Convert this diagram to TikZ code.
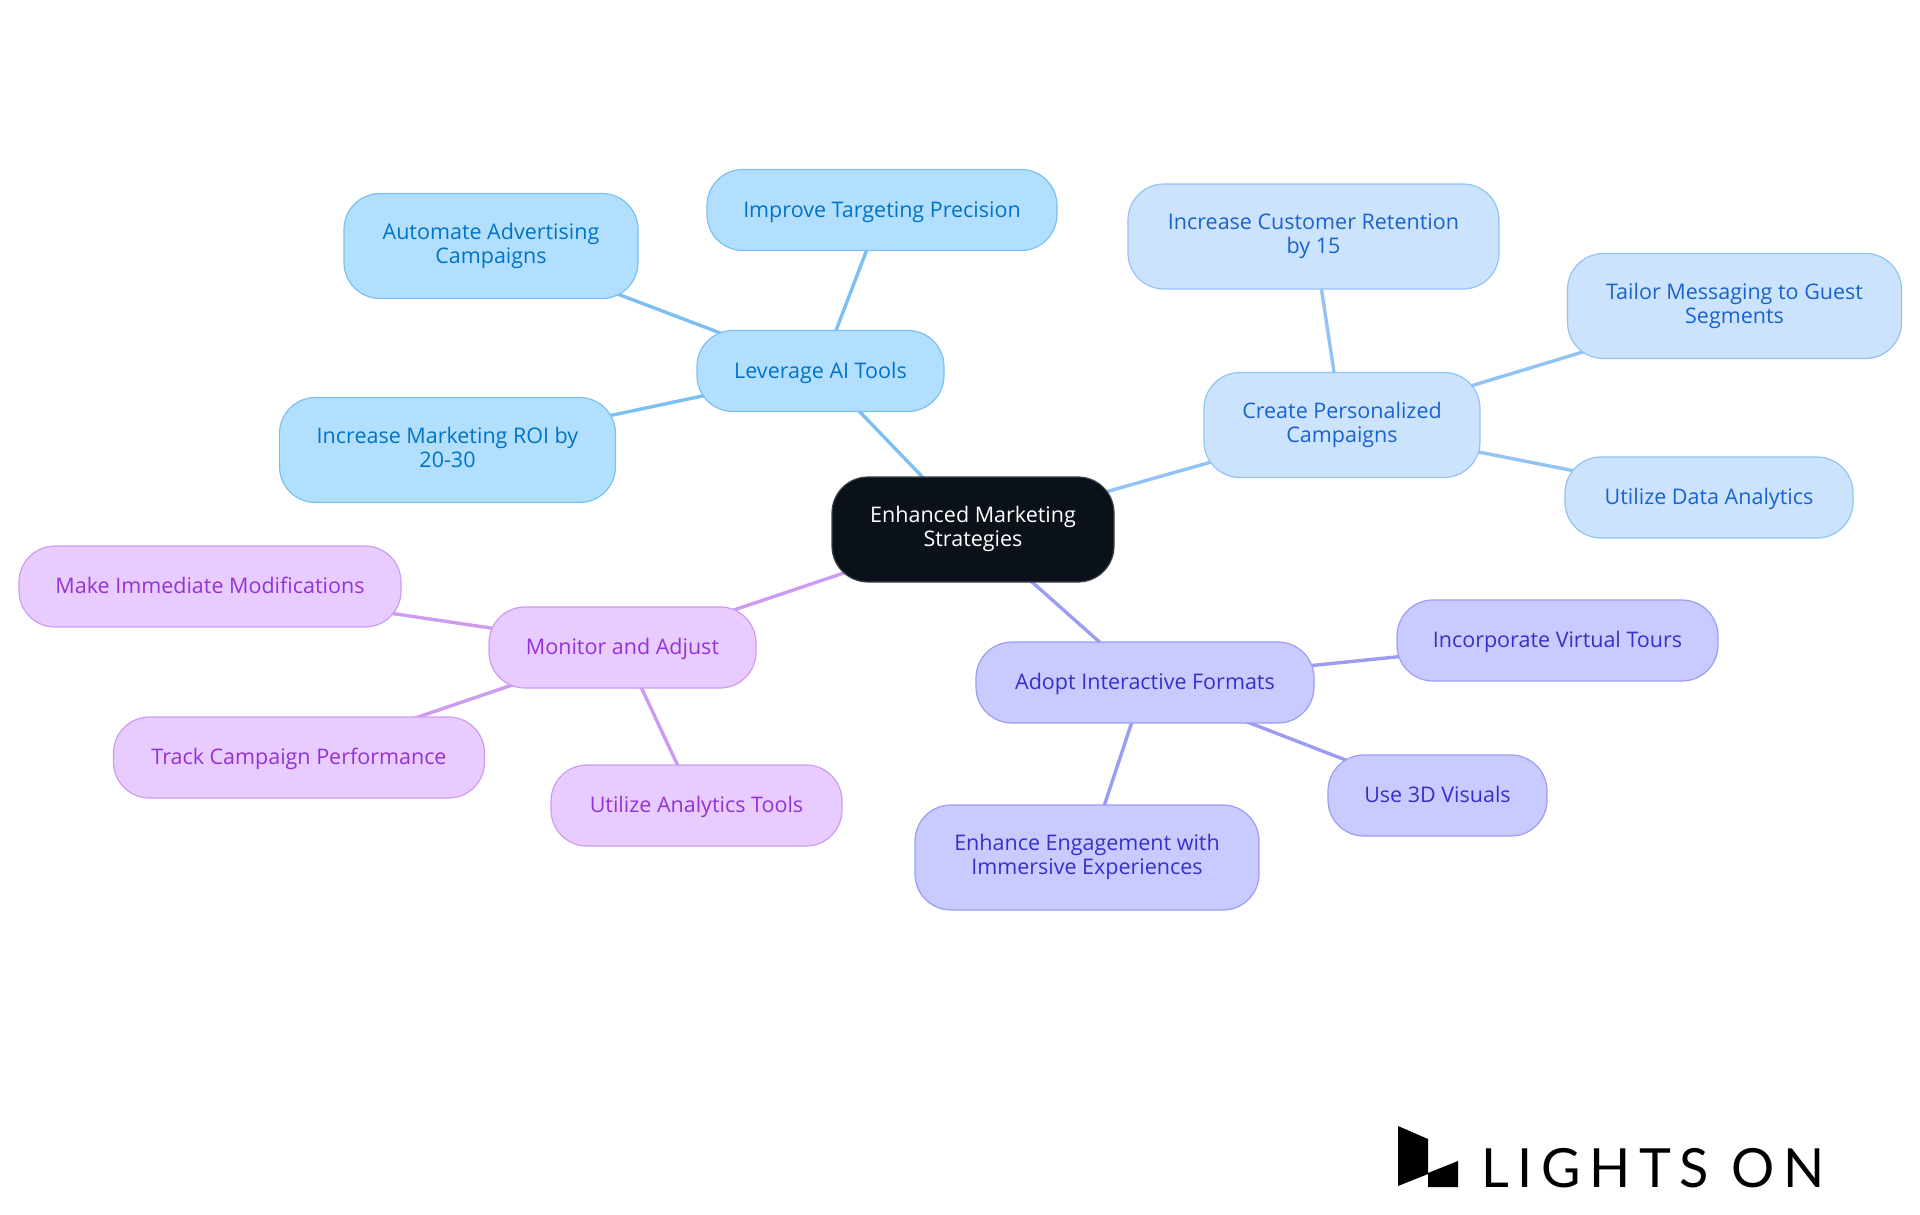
\documentclass[tikz,border=0pt]{standalone}
\usepackage{fontspec}
\setmainfont{Open Sans}
\newfontfamily\logofont[LetterSpace=16]{Lato}
\usetikzlibrary{backgrounds}
\definecolor{bluefill}{HTML}{B3DFFF}\definecolor{bluedraw}{HTML}{7CC0F2}\definecolor{bluetext}{HTML}{0073C6}
\definecolor{skyfill}{HTML}{CCE3FD}\definecolor{skydraw}{HTML}{93C2F5}\definecolor{skytext}{HTML}{1A62CC}
\definecolor{indfill}{HTML}{C9CAFF}\definecolor{inddraw}{HTML}{9C9DF2}\definecolor{indtext}{HTML}{3730C8}
\definecolor{purfill}{HTML}{E8CBFF}\definecolor{purdraw}{HTML}{CD9CF2}\definecolor{purtext}{HTML}{9333D6}
\definecolor{rootfill}{HTML}{0B1119}
\def\boxtop{20pt}
\tikzset{
 box/.style={rounded corners=36pt,line width=1.2pt,align=center,inner sep=0pt,font=\fontsize{21.5}{24}\selectfont,
  execute at begin node={\rule{0pt}{\boxtop}},execute at end node={\rule[-6pt]{0pt}{6pt}}},
 twoline/.code={\def\boxtop{29pt}},
 bluebox/.style={box,fill=bluefill,draw=bluedraw,text=bluetext},
 skybox/.style={box,fill=skyfill,draw=skydraw,text=skytext},
 indbox/.style={box,fill=indfill,draw=inddraw,text=indtext},
 purbox/.style={box,fill=purfill,draw=purdraw,text=purtext},
 rootbox/.style={box,fill=rootfill,draw=rootfill!80!white,text=white},
 link/.style={line width=3.4pt},
 wh/.style 2 args={minimum width=#1pt,minimum height=#2pt}
}
\begin{document}
\begin{tikzpicture}[x=1pt,y=-1pt]
\useasboundingbox (0,0) rectangle (1920,1215);
\node[rootbox,twoline,wh={282}{105}] (root) at (973,529.5) {Enhanced Marketing\\Strategies};
\node[bluebox,wh={247}{81}] (ai) at (820.5,371) {Leverage AI Tools};
\node[bluebox,wh={350}{81}] (improve) at (882,210) {Improve Targeting Precision};
\node[bluebox,twoline,wh={294}{105}] (automate) at (491,246) {Automate Advertising\\Campaigns};
\node[bluebox,twoline,wh={336}{105}] (roi) at (447.5,450) {Increase Marketing ROI by\\20-30};
\node[skybox,twoline,wh={276}{105}] (create) at (1342,425) {Create Personalized\\Campaigns};
\node[skybox,twoline,wh={371}{105}] (retention) at (1313.5,236.5) {Increase Customer Retention\\by 15};
\node[skybox,twoline,wh={334}{105}] (tailor) at (1734.5,306) {Tailor Messaging to Guest\\Segments};
\node[skybox,wh={288}{81}] (data) at (1709,497.5) {Utilize Data Analytics};
\node[indbox,wh={338}{81}] (adopt) at (1145,682.5) {Adopt Interactive Formats};
\node[indbox,wh={321}{81}] (tours) at (1557.5,640.5) {Incorporate Virtual Tours};
\node[indbox,wh={219}{81}] (visuals) at (1437.5,795.5) {Use 3D Visuals};
\node[indbox,twoline,wh={344}{105}] (immersive) at (1087,857.5) {Enhance Engagement with\\Immersive Experiences};
\node[purbox,wh={267}{81}] (monitor) at (622.5,647.5) {Monitor and Adjust};
\node[purbox,wh={382}{81}] (modify) at (210,586.5) {Make Immediate Modifications};
\node[purbox,wh={371}{81}] (track) at (299,757.5) {Track Campaign Performance};
\node[purbox,wh={291}{81}] (analytics) at (696.5,805.5) {Utilize Analytics Tools};
\begin{scope}[on background layer]
\draw[link,bluedraw] (root.center)--(ai.center) (ai.center)--(improve.center) (ai.center)--(automate.center) (ai.center)--(roi.center);
\draw[link,skydraw] (root.center)--(create.center) (create.center)--(retention.center) (create.center)--(tailor.center) (create.center)--(data.center);
\draw[link,inddraw] (root.center)--(adopt.center) (adopt.center)--(tours.center) (adopt.center)--(visuals.center) (adopt.center)--(immersive.center);
\draw[link,purdraw] (root.center)--(monitor.center) (monitor.center)--(modify.center) (monitor.center)--(track.center) (monitor.center)--(analytics.center);
\end{scope}
\fill[black] (1398,1126)--(1428,1139)--(1428,1173)--(1458,1161)--(1458,1187)--(1428,1187)--(1428,1174)--(1398,1186)--cycle;
\node[anchor=base west,inner sep=0pt,text=black,font=\logofont\fontsize{54}{54}\selectfont] (logo) at (1481,1187) {LIGHTS ON};
\end{tikzpicture}
\end{document}
